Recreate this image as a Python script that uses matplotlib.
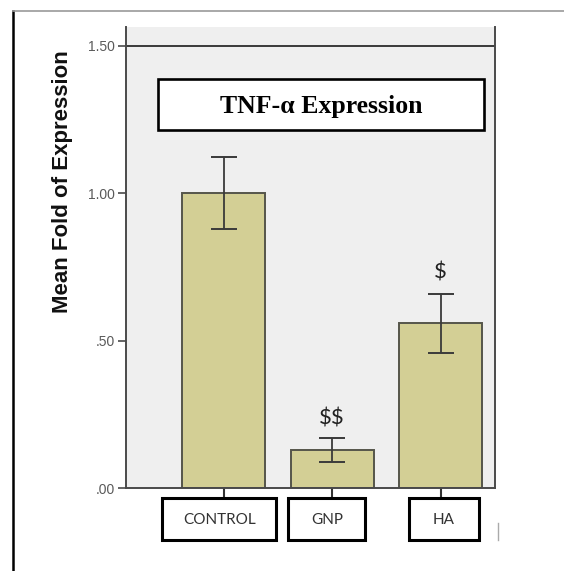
import matplotlib
matplotlib.use("Agg")
import matplotlib.pyplot as plt
from matplotlib.patches import Rectangle
from matplotlib.lines import Line2D
import matplotlib.transforms as mtransforms

# ---- data ----
categories = ["CONTROL", "GNP", "HA"]
means = [1.00, 0.129, 0.56]
err_low = [0.122, 0.041, 0.102]
err_high = [0.122, 0.041, 0.098]
sig_labels = ["", "$$", "$"]
yticks = [0.0, 0.5, 1.0, 1.5]
ytick_labels = [".00", ".50", "1.00", "1.50"]
title_text = "TNF-\u03b1 Expression"
ylabel_text = "Mean Fold of Expression"

# ---- styling ----
W, H = 564, 571
fig = plt.figure(figsize=(W / 100, H / 100), dpi=100)
fig.patch.set_facecolor("white")

ax_l, ax_r, ax_t, ax_b = 126, 495, 27, 488
ax = fig.add_axes([ax_l / W, (H - ax_b) / H, (ax_r - ax_l) / W, (ax_b - ax_t) / H])
ax.set_facecolor("#efefef")

x = list(range(len(categories)))
ax.bar(x, means, width=0.765, color="#d3cf95", edgecolor="#55554a", linewidth=1.4, zorder=2)
ax.errorbar(x, means, yerr=[err_low, err_high], fmt="none", ecolor="#3a3a3a",
            elinewidth=1.3, capsize=9.7, capthick=1.4, zorder=3)

ax.set_xlim(-0.9, 2.5)
ax.set_ylim(0, 1.563)

# reference line at 1.5
ax.axhline(1.5, color="#3a3a3a", linewidth=1.4, zorder=1)

# significance markers
sig_offsets = [0, 0.067, 0.074]
for xi, m, eh, s, off in zip(x, means, err_high, sig_labels, sig_offsets):
    if s:
        ax.text(xi, m + eh + off, s, ha="center", va="center", fontsize=16,
                family="Lato", color="#222222", zorder=4, parse_math=False)

# spines
ax.spines["top"].set_visible(False)
for side in ["left", "right", "bottom"]:
    ax.spines[side].set_color("#4a4a4a")
    ax.spines[side].set_linewidth(1.4)

ax.set_yticks(yticks)
ax.set_yticklabels(ytick_labels, fontsize=10, color="#5a5a5a", family="Liberation Sans")
ax.tick_params(axis="y", length=6, width=1.2, color="#4a4a4a", pad=2)
ax.set_xticks(x)
ax.set_xticklabels([""] * len(x))
ax.tick_params(axis="x", length=8, width=1.5, color="#333333")

# boxed category labels
trans = mtransforms.blended_transform_factory(ax.transData, ax.transAxes)
box_widths = [1.05, 0.71, 0.65]
box_offsets = [-0.04, -0.05, 0.03]
box_top, box_h = -0.0217, 0.092
for xi, lab, bw, bo in zip(x, categories, box_widths, box_offsets):
    ax.add_patch(Rectangle((xi + bo - bw / 2, box_top - box_h), bw, box_h, transform=trans,
                           facecolor="white", edgecolor="black", linewidth=2.2,
                           clip_on=False, zorder=5))
    ax.text(xi + bo, box_top - box_h / 2 - 0.002, lab, transform=trans, ha="center", va="center",
            fontsize=11, family="Lato", color="#333333", zorder=6)

# title box
ax.add_patch(Rectangle((0.0867, 0.777), 0.883, 0.110, transform=ax.transAxes,
                       facecolor="white", edgecolor="black", linewidth=1.9, zorder=5))
ax.text(0.528, 0.828, title_text, transform=ax.transAxes, ha="center", va="center",
        fontsize=18.5, fontweight="bold", family="Liberation Serif", zorder=6)

# y label
fig.text(63 / W, 1 - 182 / H, ylabel_text, rotation=90, ha="center", va="center",
         fontsize=16, fontweight="bold", family="Liberation Sans", color="#111111")

# outer frame lines (image border)
fig.add_artist(Line2D([12.5 / W, 12.5 / W], [0, 1 - 11 / H], color="black", linewidth=1.8))
fig.add_artist(Line2D([12.5 / W, 1], [1 - 11 / H, 1 - 11 / H], color="#999999", linewidth=1.2))
fig.add_artist(Line2D([498 / W, 498 / W], [1 - 540 / H, 1 - 523 / H], color="#aaaaaa", linewidth=1.0))

fig.savefig("out.png", dpi=100)
